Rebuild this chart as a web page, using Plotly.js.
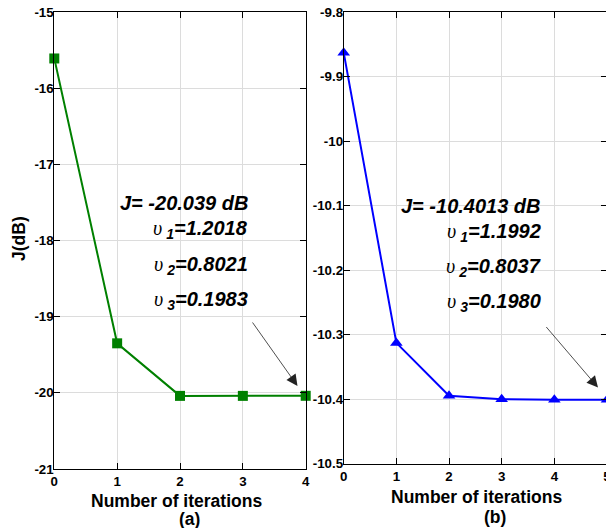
<!DOCTYPE html>
<html>
<head>
<meta charset="utf-8">
<script src="https://cdn.plot.ly/plotly-3.0.1.min.js"></script>
<style>
  html, body { margin: 0; padding: 0; overflow: hidden; background: #fff; }
  #chart { width: 612px; height: 528px; }
</style>
</head>
<body>
<div id="chart"></div>
<script>
// Panel (a): cost J (dB) per iteration
const iterA = [0, 1, 2, 3, 4];
const costA = [-15.61, -19.35, -20.04, -20.04, -20.039];
// Panel (b)
const iterB = [0, 1, 2, 3, 4, 5];
const costB = [-9.863, -10.313, -10.395, -10.4005, -10.401, -10.4013];

// Tick labels (hyphen minus, as printed on the axes)
const yTicksA = ['-21', '-20', '-19', '-18', '-17', '-16', '-15'];
const yTicksB = ['-10.5', '-10.4', '-10.3', '-10.2', '-10.1', '-10', '-9.9', '-9.8'];
const xTicksA = ['0', '1', '2', '3', '4'];
const xTicksB = ['0', '1', '2', '3', '4', '5'];

// Final results printed in each panel
const finalJA = '-20.039 dB';
const upsA = ['1.2018', '0.8021', '0.1983'];
const finalJB = '-10.4013 dB';
const upsB = ['1.1992', '0.8037', '0.1980'];

const W = 612, H = 528;
const px = x => x / W;
const py = y => 1 - y / H;

const SANS = 'Liberation Sans, Arial, sans-serif';
const tickFont = { family: SANS, size: 13.3, weight: 'bold', color: '#000' };
const bold = s => '<b>' + s + '</b>';

function axisBase(labels, standoff) {
  return {
    range: [Number(labels[0]), Number(labels[labels.length - 1])],
    tickmode: 'array', tickvals: labels.map(Number), ticktext: labels.map(bold),
    ticks: 'inside', ticklen: 6, tickcolor: '#000', tickwidth: 1,
    showline: true, linecolor: '#000', linewidth: 1, mirror: 'ticks',
    showgrid: true, gridcolor: '#dcdcdc', gridwidth: 1, zeroline: false,
    tickfont: tickFont, ticklabelstandoff: standoff, fixedrange: true
  };
}

const traces = [
  {
    x: iterA, y: costA, xaxis: 'x', yaxis: 'y', type: 'scatter', mode: 'lines+markers',
    line: { color: '#008000', width: 2 },
    marker: { symbol: 'square', size: 10, color: '#008000' },
    cliponaxis: false, showlegend: false, hoverinfo: 'skip'
  },
  {
    x: iterB, y: costB, xaxis: 'x2', yaxis: 'y2', type: 'scatter', mode: 'lines+markers',
    line: { color: '#0000ff', width: 2 },
    marker: { symbol: 'triangle-up', size: 11, color: '#0000ff' },
    cliponaxis: false, showlegend: false, hoverinfo: 'skip'
  }
];

const ups = i => '<span style="font-family:\'Liberation Serif\',serif;font-weight:normal">\u03c5</span>' +
  '<b>\u2009<sub>' + i + '</sub>=';

function resultNotes(Jtext, vals, right, yJ, yRows) {
  const notes = [{
    xref: 'paper', yref: 'paper', x: px(right), y: py(yJ), xanchor: 'right', yanchor: 'middle',
    text: '<b>J= ' + Jtext + '</b>', showarrow: false,
    font: { family: SANS, size: 20, style: 'italic', color: '#000' }
  }];
  vals.forEach((v, k) => notes.push({
    xref: 'paper', yref: 'paper', x: px(right), y: py(yRows[k]), xanchor: 'right', yanchor: 'middle',
    text: ups(k + 1) + v + '</b>', showarrow: false,
    font: { family: SANS, size: 20, style: 'italic', color: '#000' }
  }));
  return notes;
}

const labelFont = { family: SANS, size: 17.5, weight: 'bold', color: '#000' };
const annotations = [].concat(
  resultNotes(finalJA, upsA, 250, 203, [229, 265, 300]),
  resultNotes(finalJB, upsB, 543, 206, [232, 267, 302]),
  [
    { xref: 'paper', yref: 'paper', x: px(297.5), y: py(386), ax: -46, ay: -65, text: '',
      showarrow: true, arrowhead: 2, arrowsize: 2.8, arrowwidth: 0.8, arrowcolor: '#222' },
    { xref: 'paper', yref: 'paper', x: px(598), y: py(387.5), ax: -53, ay: -62, text: '',
      showarrow: true, arrowhead: 2, arrowsize: 2.8, arrowwidth: 0.8, arrowcolor: '#222' },
    { xref: 'paper', yref: 'paper', x: px(176), y: py(500.5), text: 'Number of iterations',
      showarrow: false, font: labelFont, xanchor: 'center', yanchor: 'middle' },
    { xref: 'paper', yref: 'paper', x: px(189), y: py(518.5), text: '(a)',
      showarrow: false, font: labelFont, xanchor: 'center', yanchor: 'middle' },
    { xref: 'paper', yref: 'paper', x: px(476), y: py(497), text: 'Number of iterations',
      showarrow: false, font: labelFont, xanchor: 'center', yanchor: 'middle' },
    { xref: 'paper', yref: 'paper', x: px(494.5), y: py(516.5), text: '(b)',
      showarrow: false, font: labelFont, xanchor: 'center', yanchor: 'middle' },
    { xref: 'paper', yref: 'paper', x: px(19), y: py(239), text: 'J(dB)', textangle: -90,
      showarrow: false, font: labelFont, xanchor: 'center', yanchor: 'middle' }
  ]
);

// White boxes behind the result text (hide the grid there)
const shapes = [
  { type: 'rect', xref: 'paper', yref: 'paper', x0: px(117), x1: px(252), y0: py(320), y1: py(184),
    fillcolor: '#fff', line: { width: 0 }, layer: 'between' },
  { type: 'rect', xref: 'paper', yref: 'paper', x0: px(400), x1: px(545), y0: py(325), y1: py(188),
    fillcolor: '#fff', line: { width: 0 }, layer: 'between' }
];

const layout = {
  width: W, height: H,
  margin: { l: 0, r: 0, t: 0, b: 0, pad: 0 },
  paper_bgcolor: '#fff', plot_bgcolor: '#fff',
  showlegend: false,
  xaxis: Object.assign(axisBase(xTicksA, 0), { domain: [px(54.3), px(305.7)], anchor: 'y' }),
  yaxis: Object.assign(axisBase(yTicksA, -3), { domain: [py(469), py(12)], anchor: 'x' }),
  xaxis2: Object.assign(axisBase(xTicksB, 1), { domain: [px(343.7), px(607)], anchor: 'y2' }),
  yaxis2: Object.assign(axisBase(yTicksB, -3), { domain: [py(463.5), py(12)], anchor: 'x2' }),
  shapes: shapes,
  annotations: annotations
};

Plotly.newPlot('chart', traces, layout, { displayModeBar: false, staticPlot: true });
</script>
</body>
</html>
